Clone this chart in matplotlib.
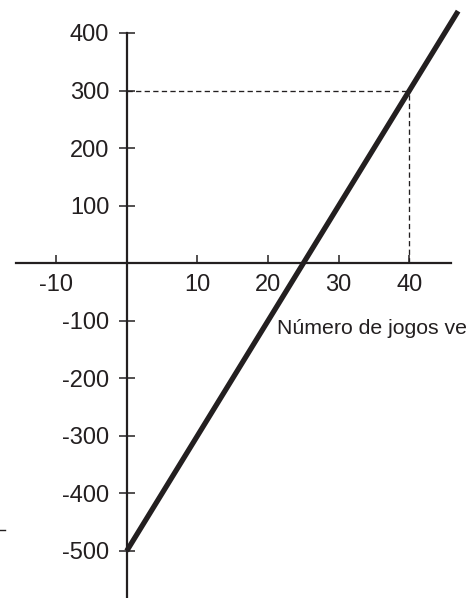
import matplotlib
matplotlib.use("Agg")
import matplotlib.pyplot as plt
from matplotlib.lines import Line2D

plt.rcParams["font.family"] = ["Liberation Sans", "DejaVu Sans"]
plt.rcParams["axes.unicode_minus"] = False

# line y = 20x - 500, drawn from its intercept to the top of the picture
line_x = [0, 46.9]
line_y = [-500, 438]

# highlighted point with dashed guides
point_x = 40
point_y = 300

x_ticks = [-10, 10, 20, 30, 40]
y_ticks = [-500, -400, -300, -200, -100, 100, 200, 300, 400]
x_label = "Número de jogos ve"

INK = "#231f20"

fig = plt.figure(figsize=(4.69, 5.98), dpi=100)
ax = fig.add_axes([0, 0, 1, 1])
ax.set_xlim(-17.93, 48.44)
ax.set_ylim(-581.7, 457.3)

for side in ("top", "right"):
    ax.spines[side].set_visible(False)
ax.spines["left"].set_position(("data", 0))
ax.spines["bottom"].set_position(("data", 0))
ax.spines["left"].set_bounds(-581.7, 400)
ax.spines["bottom"].set_bounds(-15.67, 45.95)
for side in ("left", "bottom"):
    ax.spines[side].set_color(INK)
    ax.spines[side].set_linewidth(1.6)
ax.patch.set_visible(False)

ax.set_xticks(x_ticks)
ax.set_yticks(y_ticks)
ax.tick_params(axis="x", direction="in", length=6, width=1.1, color=INK,
               labelsize=17, labelcolor=INK, pad=7.5)
ax.tick_params(axis="y", direction="inout", length=12, width=1.1, color=INK,
               labelsize=17, labelcolor=INK, pad=6.5)

ax.plot([0, point_x], [point_y, point_y], ls=(0, (4, 2.5)), lw=0.95, color=INK)
ax.plot([point_x, point_x], [0, point_y], ls=(0, (4, 2.5)), lw=0.95, color=INK)
ax.plot(line_x, line_y, color=INK, lw=3.8, solid_capstyle="butt", zorder=3)

ax.text(21.27, -112.6, x_label, fontsize=15.3, color=INK, ha="left", va="center")

# small stray mark at the left edge of the original
fig.add_artist(Line2D([0, 5 / 469], [1 - 530 / 598] * 2, color=INK, lw=1.0))

fig.savefig("out.png", dpi=100)
